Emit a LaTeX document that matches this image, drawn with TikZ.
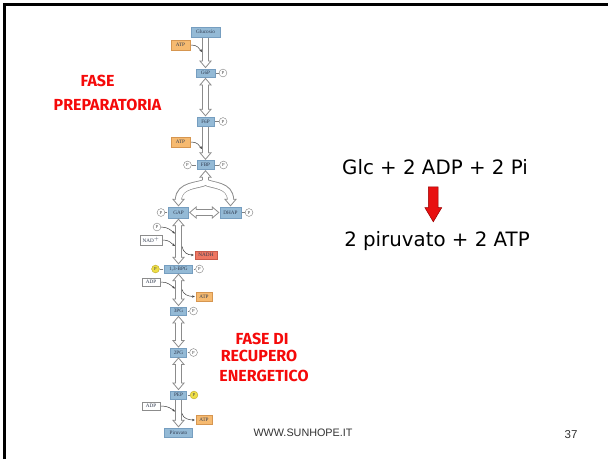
\documentclass[tikz,border=0pt]{standalone}
\usepackage{fontspec}
\setmainfont{Liberation Serif}
\newfontfamily\eqfont{DejaVu Sans}
\newfontfamily\redfont{Fira Sans}
\newfontfamily\webfont{Liberation Sans}
\usetikzlibrary{calc,arrows.meta}
\definecolor{boxblue}{RGB}{148,186,214}
\definecolor{boxedge}{RGB}{118,158,192}
\definecolor{atpor}{RGB}{246,186,112}
\definecolor{atpedge}{RGB}{214,150,80}
\definecolor{nadhred}{RGB}{238,118,98}
\definecolor{nadhedge}{RGB}{200,90,75}
\definecolor{pyel}{RGB}{238,222,70}
\definecolor{pyeledge}{RGB}{190,170,40}
\definecolor{arrgray}{RGB}{140,140,140}
\definecolor{slidered}{RGB}{245,10,10}
\definecolor{arrred}{RGB}{232,16,16}
\definecolor{arrdark}{RGB}{150,0,0}
\definecolor{boxtext}{RGB}{50,60,80}
\newcommand\HAdown[2]{%
  \draw[sout] (#1) -- ($(#2)+(0,-6)$);
  \draw[hd] (#2) -- ++(-5.5,-6.5) -- ++(11,0) -- cycle;
  \draw[sin] (#1) -- ($(#2)+(0,-5.2)$);}
\newcommand\HAboth[2]{%
  \draw[sout] ($(#1)+(0,6)$) -- ($(#2)+(0,-6)$);
  \draw[hd] (#1) -- ++(-5.5,6.5) -- ++(11,0) -- cycle;
  \draw[hd] (#2) -- ++(-5.5,-6.5) -- ++(11,0) -- cycle;
  \draw[sin] ($(#1)+(0,5.2)$) -- ($(#2)+(0,-5.2)$);}
\newcommand\HAhoriz[2]{%
  \draw[sout] ($(#1)+(6,0)$) -- ($(#2)+(-6,0)$);
  \draw[hd] (#1) -- ++(6.5,-5.5) -- ++(0,11) -- cycle;
  \draw[hd] (#2) -- ++(-6.5,-5.5) -- ++(0,11) -- cycle;
  \draw[sin] ($(#1)+(5.2,0)$) -- ($(#2)+(-5.2,0)$);}
\begin{document}
\begin{tikzpicture}[x=1pt,y=-1pt,
  box/.style={draw=boxedge, fill=boxblue, line width=0.3pt, inner sep=0pt, outer sep=1.2pt,
    font=\fontsize{5.2}{5.5}\selectfont, text=boxtext},
  atpbox/.style={box, fill=atpor, draw=atpedge},
  wbox/.style={box, fill=white, draw=black!45},
  nadhbox/.style={box, fill=nadhred, draw=nadhedge},
  pc/.style={circle, draw=black!50, fill=white, line width=0.4pt, minimum size=7.8pt,
    inner sep=0pt, font=\fontsize{4.6}{4.6}\selectfont, text=black!70},
  py/.style={pc, fill=pyel, draw=pyeledge},
  plink/.style={draw=black!50, line width=0.5pt},
  sout/.style={draw=arrgray, line width=7pt},
  sin/.style={draw=white, line width=5.4pt},
  hd/.style={draw=arrgray, fill=white, line width=0.8pt, line join=miter},
  side/.style={draw=black!75, line width=0.5pt, -{Stealth[length=2.8pt,width=2.4pt]}},
  redtxt/.style={text=slidered, font=\redfont\bfseries\fontsize{16}{18}\selectfont, inner sep=0pt, anchor=base},
  eqtxt/.style={font=\eqfont\fontsize{19.8}{22}\selectfont, inner sep=0pt, anchor=base}]
\useasboundingbox (0,0) rectangle (608,459);
\fill[white] (0,0) rectangle (608,459);
\draw[line width=2.6pt] (4.7,459) -- (4.7,4.7) -- (608,4.7);

% boxes, upper column
\node[box, minimum width=29pt, minimum height=10pt] (glc) at (205.5,32) {Glucosio};
\node[atpbox, minimum width=19pt, minimum height=10pt] (atp1) at (180.5,45) {ATP};
\node[box, minimum width=19pt, minimum height=8.5pt] (g6p) at (205.5,73) {G6P};
\node[pc] (pg6) at (223,73) {P};
\node[box, minimum width=17pt, minimum height=9pt] (f6p) at (205.5,121.5) {F6P};
\node[pc] (pf6) at (223,121.5) {P};
\node[atpbox, minimum width=19pt, minimum height=10pt] (atp2) at (180.5,142) {ATP};
\node[box, minimum width=17pt, minimum height=9pt] (fbp) at (205.5,165) {FBP};
\node[pc] (pfbl) at (187.5,165) {P};
\node[pc] (pfbr) at (223.5,165) {P};
\node[box, minimum width=20pt, minimum height=11pt] (gap) at (178.5,212.5) {GAP};
\node[pc] (pgap) at (161,212.5) {P};
\node[box, minimum width=21pt, minimum height=11pt] (dhap) at (230.5,212.5) {DHAP};
\node[pc] (pdhap) at (249,212.5) {P};
% lower column
\node[pc] (pin) at (157,227) {P};
\node[wbox, minimum width=22pt, minimum height=10pt] (nad) at (151,240) {NAD$^+$};
\node[nadhbox, minimum width=22pt, minimum height=8pt] (nadh) at (206,255) {NADH};
\node[box, minimum width=28pt, minimum height=8pt] (bpg) at (178.5,269) {1,3-BPG};
\node[py] (pbl) at (155.5,269) {P};
\node[pc] (pbr) at (199.5,269) {P};
\node[wbox, minimum width=18pt, minimum height=8pt] (adp1) at (151,282) {ADP};
\node[atpbox, minimum width=16pt, minimum height=9pt] (atp3) at (204,296.5) {ATP};
\node[box, minimum width=16pt, minimum height=8.5pt] (pg3) at (178.5,311) {3PG};
\node[pc] (p3) at (193.5,311) {P};
\node[box, minimum width=16pt, minimum height=8.5pt] (pg2) at (178.5,352.5) {2PG};
\node[pc] (p2) at (193.5,352.5) {P};
\node[box, minimum width=16pt, minimum height=8.5pt] (pep) at (178.5,395) {PEP};
\node[py] (ppep) at (194,395) {P};
\node[wbox, minimum width=18pt, minimum height=8pt] (adp2) at (151,406) {ADP};
\node[atpbox, minimum width=16pt, minimum height=9pt] (atp4) at (204,420) {ATP};
\node[box, minimum width=28pt, minimum height=9pt] (pyr) at (178.5,432.5) {Piruvato};

% phosphate links
\foreach \a/\b in {g6p/pg6, f6p/pf6, fbp/pfbl, fbp/pfbr, gap/pgap, dhap/pdhap, bpg/pbl, bpg/pbr, pg3/p3, pg2/p2, pep/ppep}
  \draw[plink] (\a) -- (\b);

% hollow arrows
\HAdown{glc.south}{g6p.north}
\HAboth{g6p.south}{f6p.north}
\HAdown{f6p.south}{fbp.north}
\HAhoriz{gap.east}{dhap.west}
\HAboth{gap.south}{bpg.north}
\HAboth{bpg.south}{pg3.north}
\HAboth{pg3.south}{pg2.north}
\HAboth{pg2.south}{pep.north}
\HAdown{pep.south}{pyr.north}

% split arrow FBP <-> GAP / DHAP
\coordinate (jn) at (205.5,182);
\coordinate (lb) at ($(gap.north)+(0,-6)$);
\coordinate (rb) at ($(dhap.north)+(0,-6)$);
\draw[sout] ($(fbp.south)+(0,6)$) -- (jn);
\draw[sout] (jn) .. controls (199.5,186) and (178.5,184) .. (lb);
\draw[sout] (jn) .. controls (211.5,186) and (230.5,184) .. (rb);
\draw[hd] (fbp.south) -- ++(-5.5,6.5) -- ++(11,0) -- cycle;
\draw[hd] (gap.north) -- ++(-5.5,-6.5) -- ++(11,0) -- cycle;
\draw[hd] (dhap.north) -- ++(-5.5,-6.5) -- ++(11,0) -- cycle;
\draw[sin] ($(fbp.south)+(0,5.2)$) -- (jn);
\draw[sin] (jn) .. controls (199.5,186) and (178.5,184) .. ($(lb)+(0,0.8)$);
\draw[sin] (jn) .. controls (211.5,186) and (230.5,184) .. ($(rb)+(0,0.8)$);

% side arrows
\coordinate (s1) at (202,52);
\coordinate (s2) at (202,149);
\coordinate (s3) at (175,233.5);
\coordinate (s4) at (175,246);
\coordinate (o1) at (182,246.5);
\coordinate (s5) at (175,288.5);
\coordinate (o2) at (182,289.5);
\coordinate (s6) at (175,411.5);
\coordinate (o3) at (182,413.5);
\draw[side] (atp1.east) .. controls ($(atp1.east)+(6,0)$) and ($(s1)+(-3,-4)$) .. (s1);
\draw[side] (atp2.east) .. controls ($(atp2.east)+(6,0)$) and ($(s2)+(-3,-4)$) .. (s2);
\draw[side] (pin.east) .. controls ($(pin.east)+(7,0)$) and ($(s3)+(-4,-3)$) .. (s3);
\draw[side] (nad.east) .. controls ($(nad.east)+(6,0)$) and ($(s4)+(-4,-3)$) .. (s4);
\draw[side] (o1) .. controls ($(o1)+(1,6)$) and ($(nadh.west)+(-6,0)$) .. (nadh.west);
\draw[side] (adp1.east) .. controls ($(adp1.east)+(7,0)$) and ($(s5)+(-4,-3)$) .. (s5);
\draw[side] (o2) .. controls ($(o2)+(1,5)$) and ($(atp3.west)+(-6,0)$) .. (atp3.west);
\draw[side] (adp2.east) .. controls ($(adp2.east)+(7,0)$) and ($(s6)+(-4,-3)$) .. (s6);
\draw[side] (o3) .. controls ($(o3)+(1,5)$) and ($(atp4.west)+(-6,0)$) .. (atp4.west);

% red phase labels
\node[redtxt] (f1) at (97.5,86.7) {FASE};
\node[redtxt] (f2) at (107.5,110) {PREPARATORIA};
\node[redtxt] (f3) at (262,344) {FASE DI};
\node[redtxt] (f4) at (259,361.7) {RECUPERO};
\node[redtxt] (f5) at (264,381.7) {ENERGETICO};

% equation
\node[eqtxt] (eq1) at (435,174.5) {Glc + 2 ADP + 2 Pi};
\node[eqtxt] (eq2) at (437,246.7) {2 piruvato + 2 ATP};
\draw[fill=arrred, draw=arrdark, line width=0.5pt, line join=miter]
  (428.4,186.8) -- (438.2,186.8) -- (438.2,207.5) -- (441.8,207.5) -- (433.3,221.8)
  -- (424.8,207.5) -- (428.4,207.5) -- cycle;

% footer
\node[font=\webfont\fontsize{10.8}{12}\selectfont, text=black!80, anchor=base, inner sep=0pt] (web) at (303,436) {WWW.SUNHOPE.IT};
\node[font=\webfont\fontsize{11.5}{12}\selectfont, text=black!80, anchor=base, inner sep=0pt] (num) at (571,438) {37};
\end{tikzpicture}
\end{document}
